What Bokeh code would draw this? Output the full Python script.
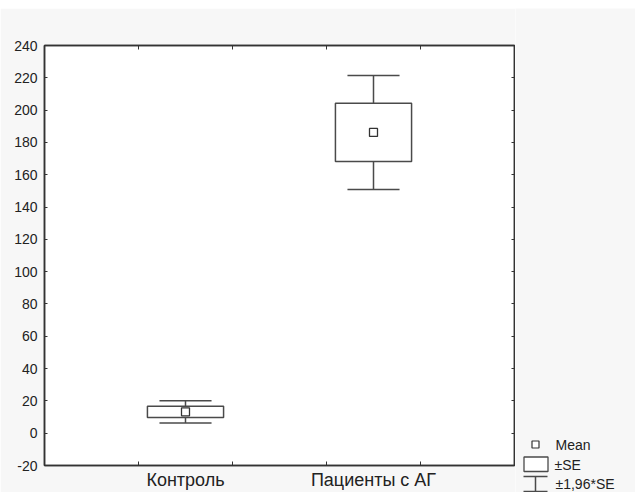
from bokeh.plotting import figure
from bokeh.layouts import row, column
from bokeh.models import Range1d, FixedTicker, LinearAxis, Spacer
from bokeh.embed import file_html
from bokeh.resources import INLINE
from bokeh.core.properties import value

# ---- data ----
categories = ["Контроль", "Пациенты с АГ"]
means = [13.2, 186.2]
se = [3.5, 18.0]
y_ticks = list(range(-20, 241, 20))
y_tick_labels = [str(t) for t in y_ticks]
legend_labels = ["Mean", "±SE", "±1,96*SE"]

FONT = "Liberation Sans"
BG = "#f7f7f7"
LINE = "#4a4a4a"
TXT = "#222222"
AX = "#333333"

xpos = [1.5 + 2 * i for i in range(len(categories))]
box_lo = [m - s for m, s in zip(means, se)]
box_hi = [m + s for m, s in zip(means, se)]
wh_lo = [m - 1.96 * s for m, s in zip(means, se)]
wh_hi = [m + 1.96 * s for m, s in zip(means, se)]
BW = 0.405
CW = 0.277

p = figure(width=515, height=484, output_backend="svg", toolbar_location=None,
           x_range=Range1d(0, 5), y_range=Range1d(-20, 240),
           min_border_left=44, min_border_top=37, min_border_bottom=27,
           min_border_right=1, x_axis_type=None, y_axis_type=None)
p.frame_align = False
p.background_fill_color = "white"
p.border_fill_color = BG
p.outline_line_color = AX
p.outline_line_width = 1.5

# bottom axis
xb = LinearAxis(ticker=FixedTicker(ticks=xpos, minor_ticks=[1, 2, 3, 4]),
                major_label_overrides={x: c for x, c in zip(xpos, categories)})
xb.major_tick_line_color = None
xb.major_tick_in = 0
xb.major_tick_out = 0
xb.minor_tick_in = 4
xb.minor_tick_out = 0
xb.minor_tick_line_color = AX
xb.axis_line_color = AX
xb.axis_line_width = 1.5
xb.major_label_text_font = FONT
xb.major_label_text_font_size = "18px"
xb.major_label_text_color = TXT
xb.major_label_standoff = 4
p.add_layout(xb, "below")

# top axis (ticks only)
xt = LinearAxis(ticker=FixedTicker(ticks=[1, 2, 3, 4]))
xt.major_tick_in = 4
xt.major_tick_out = 0
xt.major_tick_line_color = AX
xt.major_label_text_font_size = "1px"
xt.major_label_text_color = None
xt.major_label_standoff = 0
xt.axis_line_color = AX
xt.axis_line_width = 1.5
p.add_layout(xt, "above")

# left axis
yl = LinearAxis(ticker=FixedTicker(ticks=y_ticks),
                major_label_overrides={t: s for t, s in zip(y_ticks, y_tick_labels)})
yl.major_tick_in = 3
yl.major_tick_out = 0
yl.minor_tick_line_color = None
yl.major_tick_line_color = AX
yl.axis_line_color = AX
yl.axis_line_width = 1.5
yl.major_label_text_font = FONT
yl.major_label_text_font_size = "14px"
yl.major_label_text_color = TXT
yl.major_label_standoff = 7
p.add_layout(yl, "left")

# right axis (ticks only)
yr = LinearAxis(ticker=FixedTicker(ticks=y_ticks))
yr.major_tick_in = 3
yr.major_tick_out = 0
yr.minor_tick_line_color = None
yr.major_tick_line_color = AX
yr.major_label_text_font_size = "1px"
yr.major_label_text_color = None
yr.major_label_standoff = 0
yr.axis_line_color = AX
yr.axis_line_width = 1.5
p.add_layout(yr, "right")

p.ygrid.ticker = FixedTicker(ticks=y_ticks)
p.ygrid.grid_line_color = "#c4c4c4"
p.ygrid.grid_line_dash = "2 2"
p.xgrid.grid_line_color = None

# whiskers
p.segment(x0=xpos, x1=xpos, y0=box_hi, y1=wh_hi, line_color=LINE, line_width=1.5)
p.segment(x0=xpos, x1=xpos, y0=wh_lo, y1=box_lo, line_color=LINE, line_width=1.5)
p.segment(x0=[x - CW for x in xpos], x1=[x + CW for x in xpos], y0=wh_hi, y1=wh_hi,
          line_color=LINE, line_width=1.5)
p.segment(x0=[x - CW for x in xpos], x1=[x + CW for x in xpos], y0=wh_lo, y1=wh_lo,
          line_color=LINE, line_width=1.5)
# boxes
p.quad(left=[x - BW for x in xpos], right=[x + BW for x in xpos], bottom=box_lo, top=box_hi,
       fill_color="white", line_color=LINE, line_width=1.5)
# means
p.scatter(x=xpos, y=means, marker="square", size=8, fill_color="white",
          line_color=AX, line_width=1.3)

# ---- legend panel ----
lg = figure(width=120, height=484, output_backend="svg", toolbar_location=None,
            x_range=Range1d(0, 120), y_range=Range1d(484, 0),
            min_border=0, x_axis_type=None, y_axis_type=None)
lg.frame_align = False
lg.background_fill_color = BG
lg.border_fill_color = BG
lg.outline_line_color = None
lg.grid.grid_line_color = None

lg.scatter(x=[20], y=[436], marker="square", size=7, fill_color="white",
           line_color=AX, line_width=1.2)
lg.quad(left=[8.5], right=[32.5], top=[448.5], bottom=[463], fill_color="white",
        line_color=LINE, line_width=1.3)
lg.segment(x0=[8, 8, 20], x1=[32, 32, 20], y0=[468, 483, 468], y1=[468, 483, 483],
           line_color=LINE, line_width=1.5)
lg.text(x=[40, 39, 40], y=[436, 456, 475], text=legend_labels,
        text_font=value(FONT), text_font_size="14px", text_color=TXT,
        text_baseline="middle", text_align="left")

layout = column(Spacer(width=635, height=8), row(p, lg, spacing=0), spacing=0)
open("out.html", "w").write(file_html(layout, INLINE))
